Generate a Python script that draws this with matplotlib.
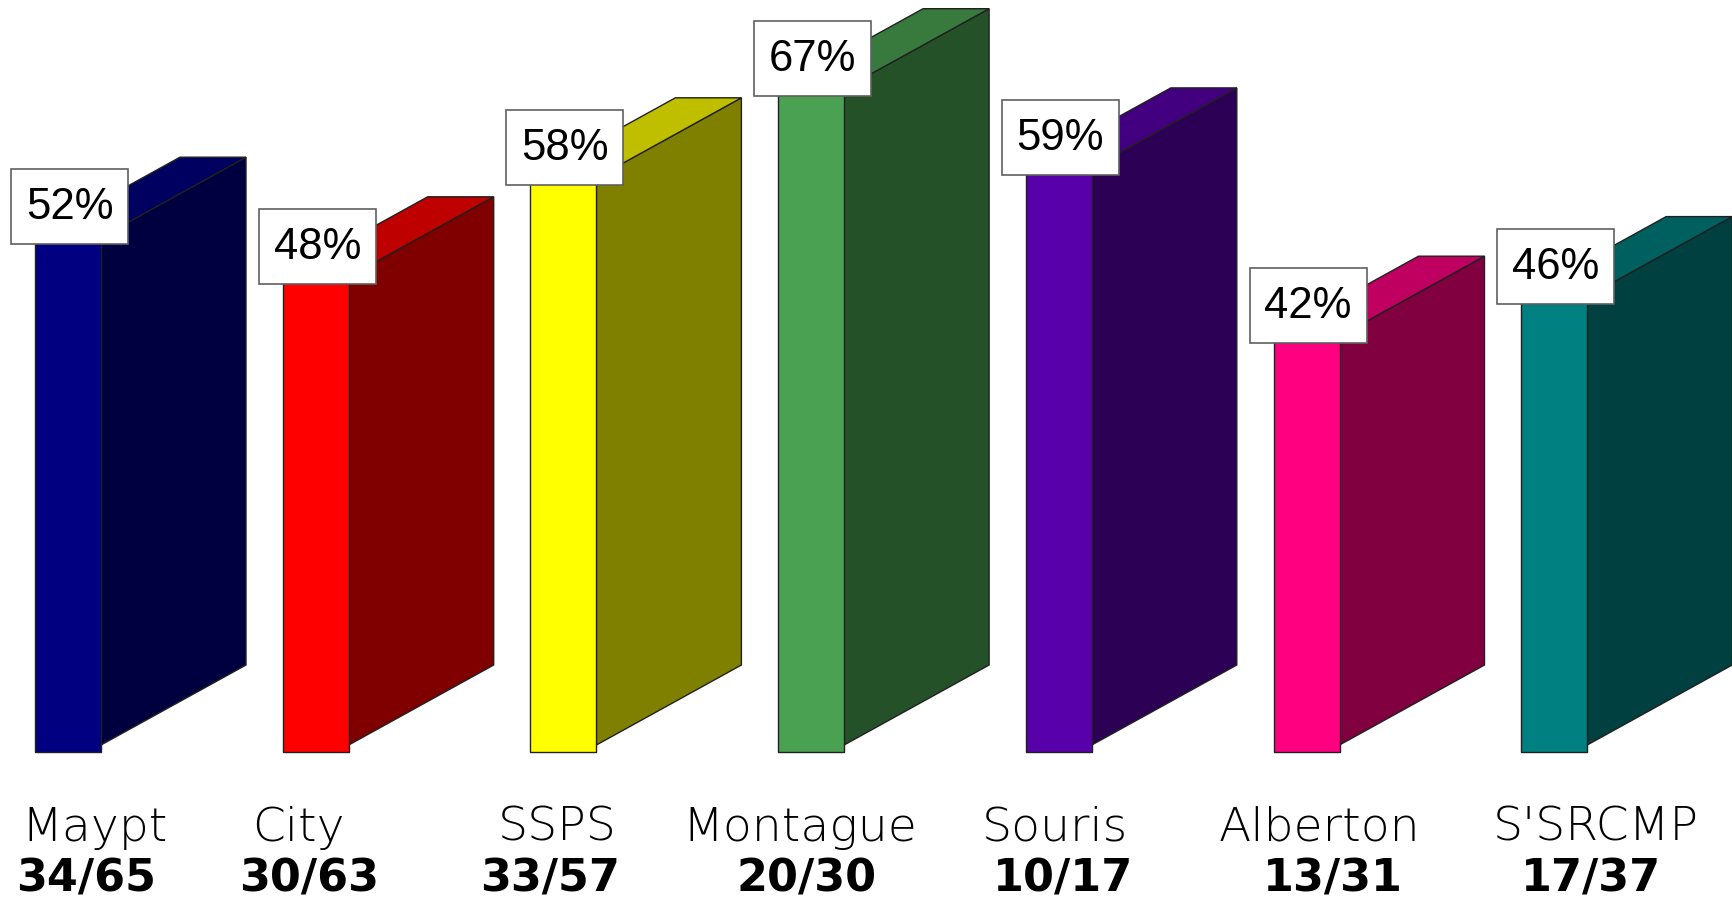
import matplotlib
matplotlib.use("Agg")
import matplotlib.pyplot as plt
from matplotlib.patches import Polygon, Rectangle
from matplotlib.colors import to_rgb

# survey results by site
sites = ["Maypt", "City", "SSPS", "Montague", "Souris", "Alberton", "S'SRCMP"]
counts = ["34/65", "30/63", "33/57", "20/30", "10/17", "13/31", "17/37"]
percents = [52, 48, 58, 67, 59, 42, 46]
front_colors = ["#000080", "#FF0000", "#FFFF00", "#4AA152", "#5800AA", "#FF0080", "#008080"]

W, H = 1732, 903
fig = plt.figure(figsize=(W / 100, H / 100), dpi=100)
ax = fig.add_axes([0, 0, 1, 1])

# pixel scales: 247.7 px between bars, 9.9 px per percent
px_x = 247.7
px_y = 9.9
base_px = 150  # baseline height above bottom of figure
ax.set_xlim(-68 / px_x, (W - 68) / px_x)
ax.set_ylim(-base_px / px_y, (H - base_px) / px_y)
ax.axis("off")

half = 33 / px_x         # half width of front face
dx = 145 / px_x          # depth offset to the right
dy = 80 / px_y           # depth offset upward
lift = 7 / px_y          # side face starts a bit above the baseline
edge = "#202020"

# horizontal nudges (px) for the category text, which isn't centred under the bars
name_nudge = [27, -17, -6, -11, -4, 13, 42]
count_nudge = [18, -7, -13, -5, 4, 26, 37]


def shade(c, f):
    r, g, b = to_rgb(c)
    return (r * f, g * f, b * f)


for i, (p, c) in enumerate(zip(percents, front_colors)):
    xl, xr = i - half, i + half
    # side face
    ax.add_patch(Polygon([(xr, lift), (xr + dx, lift + dy), (xr + dx, p + dy), (xr, p)],
                         closed=True, facecolor=shade(c, 0.5), edgecolor=edge, lw=1, zorder=2))
    # top face
    ax.add_patch(Polygon([(xl, p), (xr, p), (xr + dx, p + dy), (xl + dx, p + dy)],
                         closed=True, facecolor=shade(c, 0.75), edgecolor=edge, lw=1, zorder=2))
    # front face
    ax.add_patch(Rectangle((xl, 0), 2 * half, p, facecolor=c, edgecolor=edge, lw=1, zorder=3))

# value boxes at the top-left of each bar
box_w = 117 / px_x
box_h = 75 / px_y
for i, p in enumerate(percents):
    bx = i - half - 24 / px_x
    by = p - 7 / px_y
    ax.add_patch(Rectangle((bx, by), box_w, box_h, facecolor="white",
                           edgecolor="#606060", lw=1.2, zorder=5))
    ax.text(bx + box_w / 2, by + box_h / 2, f"{p}%", ha="center", va="center",
            fontsize=31.5, family="Liberation Sans", zorder=6)

# site names and counts under the bars
for i, (name, n) in enumerate(zip(sites, counts)):
    ax.text(i + name_nudge[i] / px_x, -75 / px_y, name, ha="center", va="center",
            fontsize=34, family="DejaVu Sans", fontweight="light")
    ax.text(i + count_nudge[i] / px_x, -139 / px_y, n, ha="center", va="baseline",
            fontsize=32, family="DejaVu Sans", fontweight="bold")

fig.savefig("out.png", dpi=100, facecolor="white")
